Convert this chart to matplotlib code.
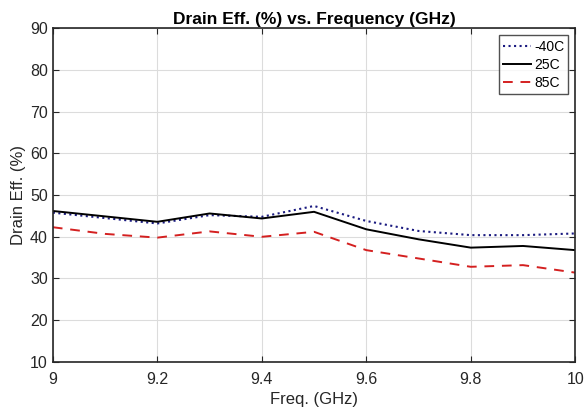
import matplotlib
matplotlib.use("Agg")
import matplotlib.pyplot as plt

freq = [9.0, 9.1, 9.2, 9.3, 9.4, 9.5, 9.6, 9.7, 9.8, 9.9, 10.0]
eff_m40 = [45.8, 44.5, 43.2, 45.2, 44.8, 47.4, 43.8, 41.4, 40.4, 40.4, 40.8]
eff_25 = [46.2, 44.9, 43.6, 45.6, 44.4, 46.0, 41.8, 39.4, 37.4, 37.8, 36.8]
eff_85 = [42.3, 40.7, 39.8, 41.3, 40.0, 41.2, 36.8, 34.8, 32.8, 33.2, 31.4]

xticks = [9, 9.2, 9.4, 9.6, 9.8, 10]
xticklabels = ["9", "9.2", "9.4", "9.6", "9.8", "10"]
yticks = [10, 20, 30, 40, 50, 60, 70, 80, 90]

plt.rcParams['font.family'] = ['Liberation Sans', 'DejaVu Sans']

fig = plt.figure(figsize=(5.87, 4.13), dpi=100)
ax = fig.add_axes([0.090, 0.124, 0.890, 0.807])

ax.plot(freq, eff_m40, color='#1a1a80', linestyle=':', linewidth=1.5, label='-40C')
ax.plot(freq, eff_25, color='black', linestyle='-', linewidth=1.4, label='25C')
ax.plot(freq, eff_85, color='#d42020', linestyle='--', linewidth=1.4, dashes=(5, 4), label='85C')

ax.set_xlim(9, 10)
ax.set_ylim(10, 90)
ax.set_xticks(xticks)
ax.set_xticklabels(xticklabels)
ax.set_yticks(yticks)
ax.grid(True, color='#dcdcdc', linewidth=0.8)
ax.set_axisbelow(True)
ax.tick_params(direction='in', length=4, colors='#262626', labelsize=11.5,
               top=True, right=True, labelcolor='#262626')
ax.tick_params(axis='x', pad=7)
for s in ax.spines.values():
    s.set_color('#262626')
    s.set_linewidth(1.2)

ax.set_title('Drain Eff. (%) vs. Frequency (GHz)', fontsize=12.5, fontweight='bold', pad=3)
ax.set_xlabel('Freq. (GHz)', fontsize=12, color='#262626', labelpad=4)
ax.set_ylabel('Drain Eff. (%)', fontsize=12, color='#262626', labelpad=3)

leg = ax.legend(loc='upper right', fontsize=10, frameon=True, fancybox=False,
                edgecolor='#262626', handlelength=2.0, handletextpad=0.2,
                borderpad=0.3, labelspacing=0.3, borderaxespad=0.5)
leg.get_frame().set_linewidth(1.0)

fig.savefig('out.png', dpi=100)
